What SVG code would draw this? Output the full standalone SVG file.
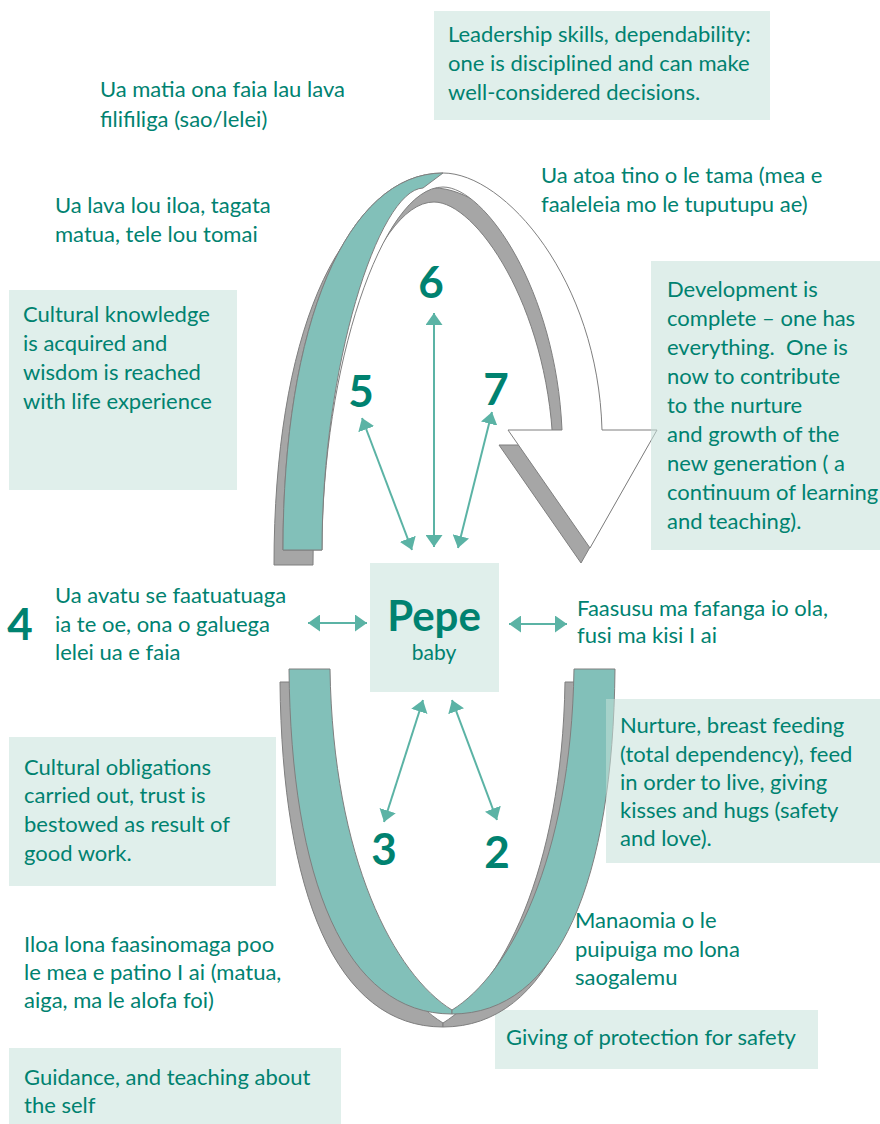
<svg xmlns="http://www.w3.org/2000/svg" width="880" height="1124" viewBox="0 0 880 1124">
<defs>
<style>
.t{font-family:Lato,"Open Sans","Liberation Sans",sans-serif;font-size:22px;fill:#008270}
.n{font-family:Lato,"Open Sans","Liberation Sans",sans-serif;font-size:44px;font-weight:bold;fill:#008270;text-anchor:middle}
.box{fill:#e0efeb}
.boxo{fill:#c4e0d9;fill-opacity:0.55}
.sh{fill:#a6a6a6;stroke:#7f7f7f;stroke-width:1}
.tl{fill:#82c0b9;stroke:#7f7f7f;stroke-width:1}
.wa{fill:#ffffff;stroke:#7f7f7f;stroke-width:1}
.ar{stroke:#5bb3a5;stroke-width:2;fill:none;marker-start:url(#ah);marker-end:url(#ah)}
</style>
<marker id="ah" markerUnits="userSpaceOnUse" viewBox="0 0 12 17" markerWidth="12" markerHeight="17" refX="12" refY="8.5" orient="auto-start-reverse">
<path d="M0,0 L12,8.5 L0,17 Z" fill="#5bb3a5"/>
</marker>
<path id="arch" d="M283,550 C283,324 347,173 443,173 C505,173 598,280 602,430 L657,430 L590,548 L508,430 L562,430 C556,290 485,187 443,187 C382,187 322,368 322,550 Z"/>
<path id="uhalf" d="M289,669 L330,669 C333,860 395,975 452,1010 L452,1014 C345,1014 291,880 289,669 Z"/>
</defs>
<rect width="880" height="1124" fill="#ffffff"/>

<g id="boxes">
<rect class="box" x="434" y="11" width="336" height="109"/>
<rect class="box" x="9" y="290" width="228" height="200"/>
<rect class="box" x="370" y="563" width="129" height="129"/>
<rect class="box" x="9" y="737" width="267" height="149"/>
<rect class="box" x="9" y="1048" width="332" height="76"/>
<rect class="box" x="495" y="1010" width="323" height="59"/>
</g>

<g id="arch-arrow">
<use href="#arch" class="sh" transform="translate(-9,15)"/>
<use href="#arch" class="wa"/>
<path class="tl" d="M283,550 C283,324 347,173 443,173 L423,188 C378,190 322,368 322,550 Z"/>
</g>

<g id="u-shape">
<use href="#uhalf" class="sh" transform="translate(-9,13)"/>
<use href="#uhalf" class="sh" transform="translate(895,13) scale(-1,1)"/>
<use href="#uhalf" class="tl"/>
<use href="#uhalf" class="tl" transform="translate(904,0) scale(-1,1)"/>
</g>

<g id="overlay-boxes">
<rect class="boxo" x="651" y="261" width="229" height="289"/>
<rect class="boxo" x="606" y="699" width="274" height="164"/>
</g>

<g id="connectors">
<line class="ar" x1="434" y1="547" x2="434" y2="313"/>
<line class="ar" x1="412" y1="550" x2="362" y2="418"/>
<line class="ar" x1="458" y1="548" x2="492" y2="412"/>
<line class="ar" x1="423" y1="700" x2="384" y2="822"/>
<line class="ar" x1="452" y1="700" x2="497" y2="820"/>
<line class="ar" x1="308" y1="623" x2="367" y2="623"/>
<line class="ar" x1="509" y1="624" x2="567" y2="624"/>
</g>

<g id="n-top-left-1">
<text class="t" x="100" y="97">Ua matia ona faia lau lava</text>
<text class="t" x="100" y="127">filifiliga (sao/lelei)</text>
</g>
<g id="n-top-left-2">
<text class="t" x="55" y="213">Ua lava lou iloa, tagata</text>
<text class="t" x="55" y="242">matua, tele lou tomai</text>
</g>
<g id="n-leadership">
<text class="t" x="448" y="42">Leadership skills, dependability:</text>
<text class="t" x="448" y="71">one is disciplined and can make</text>
<text class="t" x="448" y="100">well-considered decisions.</text>
</g>
<g id="n-atoa">
<text class="t" x="541" y="183">Ua atoa tino o le tama (mea e</text>
<text class="t" x="541" y="212">faaleleia mo le tuputupu ae)</text>
</g>
<g id="n-cultural-knowledge">
<text class="t" x="23" y="322">Cultural knowledge</text>
<text class="t" x="23" y="351">is acquired and</text>
<text class="t" x="23" y="380">wisdom is reached</text>
<text class="t" x="23" y="409">with life experience</text>
</g>
<g id="n-development">
<text class="t" x="667" y="297">Development is</text>
<text class="t" x="667" y="326">complete – one has</text>
<text class="t" x="667" y="355" xml:space="preserve">everything.  One is</text>
<text class="t" x="667" y="384">now to contribute</text>
<text class="t" x="667" y="413">to the nurture</text>
<text class="t" x="667" y="442">and growth of the</text>
<text class="t" x="667" y="471">new generation ( a</text>
<text class="t" x="667" y="500">continuum of learning</text>
<text class="t" x="667" y="529">and teaching).</text>
</g>
<g id="n-numbers">
<text class="n" x="431" y="298">6</text>
<text class="n" x="361" y="407">5</text>
<text class="n" x="496" y="405">7</text>
<text class="n" x="20" y="640">4</text>
<text class="n" x="384" y="865">3</text>
<text class="n" x="497" y="868">2</text>
</g>
<g id="n-avatu">
<text class="t" x="55" y="603">Ua avatu se faatuatuaga</text>
<text class="t" x="55" y="632">ia te oe, ona o galuega</text>
<text class="t" x="55" y="660">lelei ua e faia</text>
</g>
<g id="n-pepe">
<text x="434" y="631" text-anchor="middle" style="font-family:Lato,'Open Sans','Liberation Sans',sans-serif;font-size:42px;font-weight:bold;fill:#008270">Pepe</text>
<text x="434" y="660" text-anchor="middle" class="t" style="font-size:21px">baby</text>
</g>
<g id="n-faasusu">
<text class="t" x="577" y="616">Faasusu ma fafanga io ola,</text>
<text class="t" x="577" y="643">fusi ma kisi I ai</text>
</g>
<g id="n-obligations">
<text class="t" x="24" y="775">Cultural obligations</text>
<text class="t" x="24" y="803">carried out, trust is</text>
<text class="t" x="24" y="832">bestowed as result of</text>
<text class="t" x="24" y="861">good work.</text>
</g>
<g id="n-nurture">
<text class="t" x="620" y="733">Nurture, breast feeding</text>
<text class="t" x="620" y="762">(total dependency), feed</text>
<text class="t" x="620" y="790">in order to live, giving</text>
<text class="t" x="620" y="818">kisses and hugs (safety</text>
<text class="t" x="620" y="846">and love).</text>
</g>
<g id="n-iloa">
<text class="t" x="24" y="952">Iloa lona faasinomaga poo</text>
<text class="t" x="24" y="980">le mea e patino I ai (matua,</text>
<text class="t" x="24" y="1008">aiga, ma le alofa foi)</text>
</g>
<g id="n-manaomia">
<text class="t" x="575" y="928">Manaomia o le</text>
<text class="t" x="575" y="957">puipuiga mo lona</text>
<text class="t" x="575" y="985">saogalemu</text>
</g>
<g id="n-guidance">
<text class="t" x="24" y="1085">Guidance, and teaching about</text>
<text class="t" x="24" y="1113">the self</text>
</g>
<g id="n-giving">
<text class="t" x="506" y="1045">Giving of protection for safety</text>
</g>
</svg>
